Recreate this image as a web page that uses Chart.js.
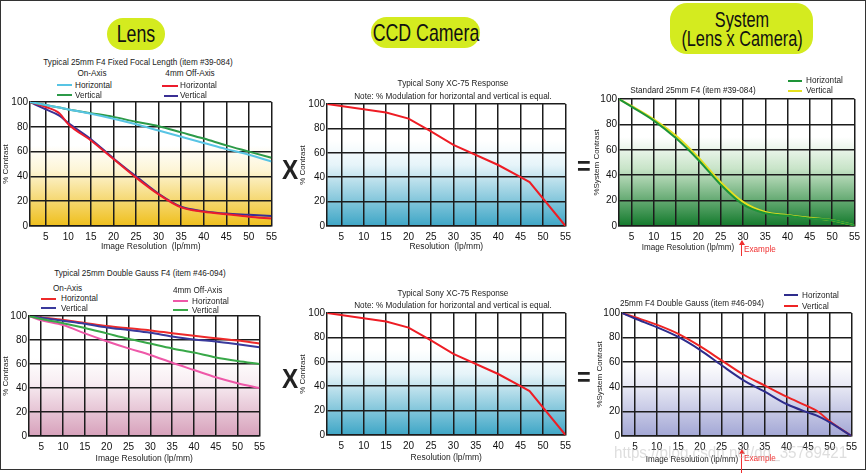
<!DOCTYPE html>
<html>
<head>
<meta charset="utf-8">
<script src="https://cdn.jsdelivr.net/npm/chart.js@4.4.1/dist/chart.umd.min.js"></script>
<style>
body { margin: 0; background: #fff; }
#page { position: relative; width: 867px; height: 473px; overflow: hidden; background: #fff;
  font-family: "Liberation Sans", Arial, sans-serif; color: #222; }
#frame { position: absolute; left: 0; top: 0; width: 864px; height: 468px; border: 1.5px solid #333; }
.t { position: absolute; white-space: nowrap; font-size: 9.5px; line-height: 10px; }
.pill { position: absolute; background: #d4eb1f; border-radius: 17px; color: #111; font-size: 23px; }
.pill div { position: absolute; left: 50%; white-space: nowrap; transform: translateX(-50%) scaleX(0.74); }
.sw { position: absolute; height: 2px; }
canvas { position: absolute; }
</style>
</head>
<body>
<div id="page"><div id="frame"></div></div>
<script>
// x ticks and y ticks shared by all six panels
const xTicks = [5, 10, 15, 20, 25, 30, 35, 40, 45, 50, 55]
const yTicks = [0, 10, 20, 30, 40, 50, 60, 70, 80, 90, 100]

// Lens, 25mm F4 fixed focal length
const lensTopX = [1.5, 5, 8, 10, 15, 20, 25, 30, 35, 40, 45, 50, 55]
const lensTopOnH = [100, 97.5, 95.5, 94, 90.5, 86.5, 82, 77, 72, 67, 62, 57.5, 52]
const lensTopOnV = [100, 97.5, 95.5, 94, 91, 88, 84, 80.5, 75.5, 70.5, 65, 60, 55]
const lensTopOffH = [100, 96, 91, 82, 69, 54, 39, 25.5, 15, 11.5, 9.5, 7.5, 6]
const lensTopOffV = [100, 94, 89, 83, 70, 54.5, 40, 26, 15.5, 12, 10, 9, 8]

// CCD camera, Sony XC-75
const ccdX = [1.8, 15, 20, 25, 30, 40, 45, 47, 55]
const ccdResp = [100, 93, 88, 77.5, 66.5, 50, 40, 36, 0]

// System, standard 25mm F4
const sysTopX = [2.2, 5, 10, 15, 20, 25, 30, 35, 40, 45, 50, 55]
const sysTopH = [100, 94, 83, 69, 52, 32.5, 17, 10, 8, 6, 4.5, 0.5]
const sysTopV = [100, 94.5, 84, 71, 54, 34.5, 19, 11, 8.5, 6.5, 4.5, 0.5]

// Lens, 25mm double gauss F4
const lensBotX = [2.2, 5, 10, 15, 20, 25, 30, 35, 40, 45, 50, 55]
const lensBotOnH = [100, 98.8, 96.7, 94.2, 91.7, 89.8, 88, 85.7, 83.5, 81.5, 79.5, 77]
const lensBotOnV = [100, 98.5, 96, 93.5, 90.5, 88.3, 86, 83, 80.5, 78.8, 76.5, 74]
const lensBotOffH = [100, 96.5, 92.5, 85.5, 79, 73, 67.5, 61, 55, 49, 44, 40]
const lensBotOffV = [100, 97.5, 94, 90, 85.5, 81, 77, 73, 69.5, 65.5, 62.5, 60]

// System, 25mm F4 double gauss
const sysBotX = [2, 5, 10, 15, 20, 25, 30, 35, 40, 45, 47, 50, 55]
const sysBotH = [100, 95.5, 88.5, 80.5, 70, 57.5, 45.5, 36, 26, 19, 16.5, 11, 0]
const sysBotV = [100, 96.5, 90.5, 83, 73, 61.5, 50, 41, 32, 24, 20.5, 12, 0]

const FONT = '"Liberation Sans", Arial, sans-serif'
const page = document.querySelector('#page')

//small text helper, y is the text middle, text squeezed to look condensed
function txt(s, x, y, opt = {}) {
    const d = document.createElement('div')
    d.className = 't'
    d.textContent = s
    d.style.top = (y - 5) + 'px'
    d.style.left = x + 'px'
    const sx = opt.sx || 0.86
    if (opt.center) { d.style.transform = 'translateX(-50%) scaleX(' + sx + ')' }
    else { d.style.transformOrigin = 'left center'; d.style.transform = 'scaleX(' + sx + ')' }
    if (opt.size) d.style.fontSize = opt.size + 'px'
    if (opt.color) d.style.color = opt.color
    if (opt.bold) d.style.fontWeight = 'bold'
    page.appendChild(d)
    return d
}
function swatch(x1, x2, y, color) {
    const d = document.createElement('div')
    d.className = 'sw'
    d.style.left = x1 + 'px'
    d.style.width = (x2 - x1) + 'px'
    d.style.top = (y - 1) + 'px'
    d.style.background = color
    page.appendChild(d)
}
function pill(lines, l, t, r, b, lh, size) {
    const d = document.createElement('div')
    d.className = 'pill'
    d.style.left = l + 'px'
    d.style.top = t + 'px'
    d.style.width = (r - l) + 'px'
    d.style.height = (b - t) + 'px'
    d.style.fontSize = size + 'px'
    const top0 = ((b - t) - lh * lines.length) / 2
    lines.forEach((s, i) => {
        const e = document.createElement('div')
        e.textContent = s
        e.style.top = (top0 + i * lh) + 'px'
        e.style.lineHeight = lh + 'px'
        d.appendChild(e)
    })
    page.appendChild(d)
}

const bgPlugin = {
    id: 'bg',
    beforeDraw(chart, args, opts) {
        const a = chart.chartArea
        const ctx = chart.ctx
        const g = ctx.createLinearGradient(0, a.top, 0, a.bottom)
        opts.stops.forEach(s => g.addColorStop(s[0], s[1]))
        ctx.save()
        ctx.fillStyle = g
        ctx.fillRect(a.left, a.top, a.right - a.left, a.bottom - a.top)
        ctx.restore()
    }
}

function addChart(o) {
    const padT = 8, padR = 8
    const [l, t, r, b] = o.box
    const w = r - l + o.yW + padR
    const h = b - t + padT + o.xH
    const cv = document.createElement('canvas')
    cv.width = w
    cv.height = h
    cv.style.left = (l - o.yW) + 'px'
    cv.style.top = (t - padT) + 'px'
    cv.style.width = w + 'px'
    cv.style.height = h + 'px'
    page.appendChild(cv)
    const gridCol = '#1c1c1c'
    // the system panels have their x title pulled to the left
    if (o.xTitleAt) txt(o.xTitle, o.xTitleAt[0], o.xTitleAt[1], { center: true, size: 8.5, sx: 0.95 })
    new Chart(cv, {
        type: 'line',
        data: {
            datasets: o.sets.map(s => ({
                data: o.xs.map((x, i) => ({ x: x, y: s.ys[i] })),
                borderColor: s.color,
                borderWidth: 2,
                pointRadius: 0,
                cubicInterpolationMode: o.straight ? 'default' : 'monotone'
            }))
        },
        options: {
            responsive: false,
            animation: false,
            layout: { padding: { top: padT, right: padR, left: 0, bottom: 0 } },
            plugins: { legend: { display: false }, tooltip: { enabled: false }, bg: { stops: o.stops } },
            scales: {
                x: {
                    type: 'linear', min: o.xMin, max: 55,
                    afterBuildTicks: s => { s.ticks = xTicks.map(v => ({ value: v })) },
                    afterFit: s => { s.height = o.xH },
                    grid: { color: gridCol, lineWidth: 1.5, drawTicks: false },
                    border: { color: gridCol, width: 1.5 },
                    ticks: { color: '#111', font: { family: FONT, size: 10 }, padding: 5, maxRotation: 0 },
                    title: { display: !o.xTitleAt, text: o.xTitle, color: '#222', font: { family: FONT, size: 8.5 }, padding: { top: 0, bottom: 2 } }
                },
                y: {
                    min: 0, max: 100,
                    afterBuildTicks: s => { s.ticks = yTicks.map(v => ({ value: v })) },
                    afterFit: s => { s.width = o.yW },
                    grid: { color: gridCol, lineWidth: 1.5, drawTicks: false },
                    border: { color: gridCol, width: 1.5 },
                    ticks: { color: '#111', font: { family: FONT, size: 10 }, padding: 2 },
                    title: { display: true, text: o.yTitle, color: '#222', font: { family: FONT, size: 8 }, padding: { top: 1, bottom: 0 } }
                }
            }
        },
        plugins: [bgPlugin]
    })
}

const yellowBg = [[0, '#ffffff'], [0.35, '#ffffff'], [0.55, '#fdf5d6'], [1, '#efbf1c']]
const blueBg = [[0, '#ffffff'], [0.3, '#ffffff'], [0.5, '#e6f4f9'], [1, '#3ea6c6']]
const greenBg = [[0, '#ffffff'], [0.3, '#ffffff'], [0.55, '#c8e4c8'], [1, '#137a2c']]
const pinkBg = [[0, '#ffffff'], [0.35, '#ffffff'], [0.55, '#f8eef3'], [1, '#d7a1bb']]
const lavBg = [[0, '#ffffff'], [0.4, '#ffffff'], [0.6, '#e7e8f4'], [1, '#a3a7d5']]

addChart({ box: [30, 102, 274, 226], yW: 30, xH: 28, xMin: 1.5, stops: yellowBg,
    yTitle: '% Contrast', xTitle: 'Image Resolution  (lp/mm)', xs: lensTopX,
    sets: [{ ys: lensTopOnH, color: '#58c4e4' }, { ys: lensTopOnV, color: '#2c9a48' },
        { ys: lensTopOffH, color: '#ec1c2c' }, { ys: lensTopOffV, color: '#3a2f94' }] })
addChart({ box: [327, 104, 568, 226], yW: 30, xH: 28, xMin: 1.8, stops: blueBg, straight: true,
    yTitle: '% Contrast', xTitle: 'Resolution  (lp/mm)', xs: ccdX,
    sets: [{ ys: ccdResp, color: '#ee1c24' }] })
addChart({ box: [619, 99, 857, 226], yW: 28, xH: 28, xMin: 2.2, stops: greenBg,
    yTitle: '%System Contrast', xTitle: 'Image Resolution (lp/mm)', xTitleAt: [688, 247], xs: sysTopX,
    sets: [{ ys: sysTopH, color: '#1e9438' }, { ys: sysTopV, color: '#e6e01e' }] })
addChart({ box: [29, 316, 262, 436], yW: 29, xH: 30, xMin: 2.2, stops: pinkBg,
    yTitle: '% Contrast', xTitle: 'Image Resolution (lp/mm)', xs: lensBotX,
    sets: [{ ys: lensBotOffV, color: '#38a848' }, { ys: lensBotOffH, color: '#ee58a8' },
        { ys: lensBotOnV, color: '#3a3a9c' }, { ys: lensBotOnH, color: '#ee2a2a' }] })
addChart({ box: [327, 313, 568, 435], yW: 30, xH: 30, xMin: 1.8, stops: blueBg, straight: true,
    yTitle: '% Contrast', xTitle: 'Resolution (lp/mm)', xs: ccdX,
    sets: [{ ys: ccdResp, color: '#ee1c24' }] })
addChart({ box: [622, 313, 854, 436], yW: 28, xH: 30, xMin: 2, stops: lavBg,
    yTitle: '%System Contrast', xTitle: 'Image Resolution (lp/mm)', xTitleAt: [692, 459], xs: sysBotX,
    sets: [{ ys: sysBotH, color: '#2e2c8c' }, { ys: sysBotV, color: '#ee2424' }] })

// headers
pill(['Lens'], 107, 18, 165, 50, 26, 24)
pill(['CCD Camera'], 371, 17, 480, 48, 26, 24)
pill(['System', '(Lens x Camera)'], 670, 3, 813, 54, 19, 22)

// operators
txt('X', 282, 170, { size: 27, bold: true, sx: 0.9 }).style.lineHeight = '10px'
txt('X', 282, 379, { size: 27, bold: true, sx: 0.9 }).style.lineHeight = '10px'
txt('=', 577, 166, { size: 26, bold: true, sx: 0.9 }).style.lineHeight = '10px'
txt('=', 577, 377, { size: 26, bold: true, sx: 0.9 }).style.lineHeight = '10px'

// top-left titles and legend
txt('Typical 25mm F4 Fixed Focal Length (item #39-084)', 138, 62, { center: true })
txt('On-Axis', 92, 73, { center: true })
txt('4mm Off-Axis', 190, 73, { center: true })
swatch(57, 72, 85, '#58c4e4'); txt('Horizontal', 75, 85)
swatch(57, 72, 95, '#2c9a48'); txt('Vertical', 75, 95)
swatch(162, 178, 86, '#ec1c2c'); txt('Horizontal', 180, 85)
swatch(164, 178, 96, '#3a2f94'); txt('Vertical', 180, 95)

// top middle
txt('Typical Sony XC-75  Response', 453, 83, { center: true })
txt('Note: % Modulation for horizontal and vertical is equal.', 453, 96, { center: true })

// top right
txt('Standard 25mm F4 (item #39-084)', 693, 90, { center: true })
swatch(788, 802, 81, '#1e9438'); txt('Horizontal', 806, 80)
swatch(788, 802, 91, '#e6e01e'); txt('Vertical', 806, 90)

// bottom left
txt('Typical 25mm Double Gauss F4 (item #46-094)', 140, 273, { center: true })
txt('On-Axis', 53, 288)
swatch(41, 56, 299, '#ee2a2a'); txt('Horizontal', 61, 298)
swatch(41, 56, 308, '#3a3a9c'); txt('Vertical', 61, 308)
txt('4mm Off-Axis', 173, 290)
swatch(173, 188, 301, '#ee58a8'); txt('Horizontal', 192, 301)
swatch(173, 188, 310, '#38a848'); txt('Vertical', 192, 310)

// bottom middle
txt('Typical Sony XC-75  Response', 453, 293, { center: true })
txt('Note: % Modulation for horizontal and vertical is equal.', 453, 305, { center: true })

// bottom right
txt('25mm F4 Double Gauss (item #46-094)', 692, 303, { center: true })
swatch(784, 798, 295, '#2e2c8c'); txt('Horizontal', 802, 295)
swatch(784, 798, 306, '#ee2424'); txt('Vertical', 802, 306)

// example markers
function example(x, y1, y2, ty) {
    const d = document.createElement('div')
    d.style.cssText = 'position:absolute;left:' + (x - 0.5) + 'px;top:' + y1 + 'px;width:1px;height:' + (y2 - y1) + 'px;background:#f03030'
    page.appendChild(d)
    const h = document.createElement('div')
    h.style.cssText = 'position:absolute;left:' + (x - 2.5) + 'px;top:' + (y1 - 1) + 'px;width:0;height:0;border-left:3px solid transparent;border-right:3px solid transparent;border-bottom:5px solid #f03030'
    page.appendChild(h)
    txt('Example', x + 3, ty, { color: '#f03030' })
}
example(741, 241, 256, 249)
example(741, 450, 473, 458)

// watermark
const wm = txt('https://blog.csdn.net/qq_35789421', 614, 452, { size: 16, color: 'rgba(190,190,190,0.5)', sx: 0.95 })
wm.style.lineHeight = '12px'
</script>
</body>
</html>
